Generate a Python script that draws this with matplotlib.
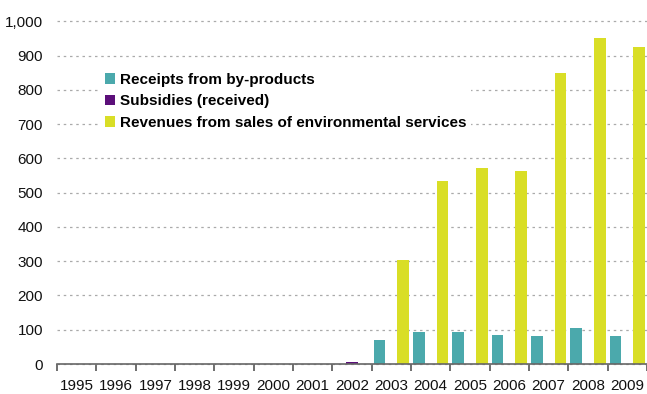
import matplotlib
matplotlib.use("Agg")
import matplotlib.pyplot as plt
import numpy as np

years = ["1995", "1996", "1997", "1998", "1999", "2000", "2001", "2002",
         "2003", "2004", "2005", "2006", "2007", "2008", "2009"]
receipts = [0, 0, 0, 0, 0, 0, 0, 0, 70, 93, 93, 85, 82, 105, 82]
subsidies = [0, 0, 1, 1, 1, 1, 1, 5, 0, 0, 0, 0, 0, 0, 0]
revenues = [0, 0, 0, 0, 0, 0, 0, 0, 303, 534, 571, 563, 848, 950, 924]
series_names = ["Receipts from by-products", "Subsidies (received)",
                "Revenues from sales of environmental services"]
colors = ["#4BA9AC", "#5C0F7A", "#D9DE26"]
yticks = [0, 100, 200, 300, 400, 500, 600, 700, 800, 900, 1000]

plt.rcParams['font.family'] = ['Liberation Sans', 'DejaVu Sans']

fig = plt.figure(figsize=(6.47, 3.94), dpi=100)
ax = fig.add_axes([57/647, 1-364/394, 1-57/647, (364-21.3)/394])

x = np.arange(len(years))
w = 0.3
for i, (vals, name, c) in enumerate(zip([receipts, subsidies, revenues], series_names, colors)):
    ax.bar(x + (i-1)*w, vals, width=w, color=c, label=name, zorder=3)

ax.set_xlim(-0.5, len(years)-0.5)
ax.set_ylim(0, 1000)
ax.set_yticks(yticks)
ax.set_yticklabels([f"{v:,}" for v in yticks])
ax.set_xticks(x)
ax.set_xticklabels(years)
ax.set_xticks(np.arange(len(years)+1) - 0.5, minor=True)
ax.tick_params(axis='x', which='major', length=0, pad=11, labelsize=11, colors='#111111')
ax.tick_params(axis='x', which='minor', length=5, width=1.2, color='#555555', direction='out')
ax.tick_params(axis='y', length=0, pad=10, labelsize=11, colors='#111111')

for s in ['top', 'right', 'left']:
    ax.spines[s].set_visible(False)
ax.spines['bottom'].set_color('#666666')
ax.spines['bottom'].set_linewidth(1.2)
ax.spines['bottom'].set_zorder(4)

ax.yaxis.grid(True, linestyle=(0, (2, 3)), color='#AAAAAA', linewidth=0.9, zorder=0)
ax.set_axisbelow(True)
for gl in ax.get_ygridlines():
    gl.set_clip_on(False)

leg = ax.legend(loc='upper left', bbox_to_anchor=(0.06, 0.886), frameon=True,
                facecolor='white', edgecolor='none', framealpha=1,
                prop={'weight': 'bold', 'size': 11}, handlelength=0.7,
                handleheight=0.7, handletextpad=0.3, labelspacing=0.5,
                borderpad=0.3, fancybox=False)
leg.set_zorder(5)

fig.savefig("out.png", dpi=100)
